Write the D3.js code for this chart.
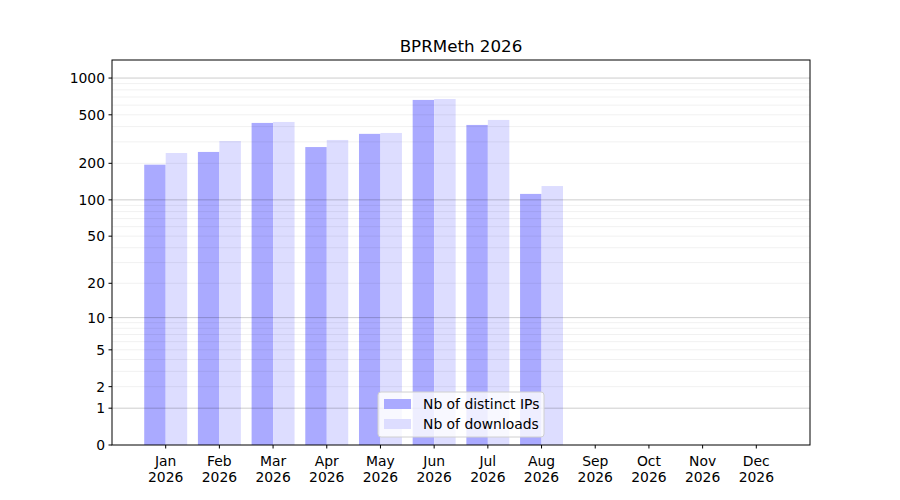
<!DOCTYPE html>
<html>
<head>
<meta charset="utf-8">
<script src="https://cdn.jsdelivr.net/npm/d3@7"></script>
<style>
  body { margin: 0; background: #fff; }
  text { font-family: "DejaVu Sans", sans-serif; fill: #000; }
</style>
</head>
<body>
<svg id="chart" width="900" height="500"></svg>
<script>
// Monthly download stats.
const months = ["Jan", "Feb", "Mar", "Apr", "May", "Jun", "Jul", "Aug", "Sep", "Oct", "Nov", "Dec"];
const year = "2026";
const distinctIPs = [195, 248, 429, 272, 349, 662, 413, 112];
const downloads = [243, 305, 437, 311, 355, 674, 454, 130];
const yTicks = [0, 1, 2, 5, 10, 20, 50, 100, 200, 500, 1000];
const majorGrid = [1, 10, 100, 1000];
const minorGrid = [2, 3, 4, 5, 6, 7, 8, 9, 20, 30, 40, 50, 60, 70, 80, 90, 200, 300, 400, 500, 600, 700, 800, 900];
const seriesNames = ["Nb of distinct IPs", "Nb of downloads"];
const seriesColors = ["#aaaaff", "#ddddff"];

const margin = {left: 112, right: 90, top: 60, bottom: 55};
const width = 900, height = 500;
const fs = "13.9px";

const svg = d3.select("#chart");

// x is month index, 1..12, with one step of padding on each side
let x = d3.scaleLinear().domain([0, 13]).range([margin.left, width - margin.right]);

// y works on log10(1 + value), so zero can sit at the bottom
let ylog = d3.scaleLinear().domain([0, 3.148]).range([height - margin.bottom, margin.top]);
let y = v => ylog(Math.log10(1 + v));

const barW = 0.4;

// bars first, grid drawn over them
let bars = svg.append("g");
[distinctIPs, downloads].forEach((vals, s) => {
    bars.selectAll(".b" + s)
        .data(vals)
        .enter().append("rect")
        .attr("x", (d, i) => x(i + 1 - barW + s * barW))
        .attr("width", (d, i) => x(i + 1 + barW) - x(i + 1))
        .attr("y", d => y(d))
        .attr("height", d => y(0) - y(d))
        .attr("fill", seriesColors[s]);
});

let grid = svg.append("g");
grid.selectAll(".minor")
    .data(minorGrid)
    .enter().append("line")
    .attr("x1", margin.left).attr("x2", width - margin.right)
    .attr("y1", d => y(d)).attr("y2", d => y(d))
    .attr("stroke", "#000").attr("stroke-opacity", 0.06).attr("stroke-width", 1);
grid.selectAll(".major")
    .data(majorGrid)
    .enter().append("line")
    .attr("x1", margin.left).attr("x2", width - margin.right)
    .attr("y1", d => y(d)).attr("y2", d => y(d))
    .attr("stroke", "#000").attr("stroke-opacity", 0.2).attr("stroke-width", 1);

// axes frame
svg.append("rect")
    .attr("x", margin.left).attr("y", margin.top)
    .attr("width", width - margin.left - margin.right)
    .attr("height", height - margin.top - margin.bottom)
    .attr("fill", "none").attr("stroke", "#000").attr("stroke-width", 1);

// y axis
let yAxis = svg.append("g");
yTicks.forEach(t => {
    yAxis.append("line")
        .attr("x1", margin.left - 3.5).attr("x2", margin.left)
        .attr("y1", y(t)).attr("y2", y(t))
        .attr("stroke", "#000");
    yAxis.append("text")
        .attr("x", margin.left - 7).attr("y", y(t))
        .attr("dy", "0.35em").attr("text-anchor", "end")
        .attr("font-size", fs)
        .text(t);
});

// x axis
let xAxis = svg.append("g");
months.forEach((m, i) => {
    let px = x(i + 1);
    xAxis.append("line")
        .attr("x1", px).attr("x2", px)
        .attr("y1", height - margin.bottom).attr("y2", height - margin.bottom + 3.5)
        .attr("stroke", "#000");
    let t = xAxis.append("text")
        .attr("x", px).attr("y", height - margin.bottom + 21)
        .attr("text-anchor", "middle")
        .attr("font-size", fs);
    t.append("tspan").attr("x", px).text(m);
    t.append("tspan").attr("x", px).attr("dy", 16).text(year);
});

// title
svg.append("text")
    .attr("x", (margin.left + width - margin.right) / 2)
    .attr("y", 52)
    .attr("text-anchor", "middle")
    .attr("font-size", "16.7px")
    .text("BPRMeth " + year);

// legend
let lg = svg.append("g").attr("transform", "translate(378,392)");
lg.append("rect")
    .attr("width", 166).attr("height", 45).attr("rx", 3)
    .attr("fill", "#fff").attr("fill-opacity", 0.8)
    .attr("stroke", "#d0d0d0");
seriesNames.forEach((n, i) => {
    lg.append("rect")
        .attr("x", 6).attr("y", 7 + i * 20)
        .attr("width", 27).attr("height", 10)
        .attr("fill", seriesColors[i]);
    lg.append("text")
        .attr("x", 45).attr("y", 12 + i * 20)
        .attr("dy", "0.35em")
        .attr("font-size", fs)
        .text(n);
});
</script>
</body>
</html>
